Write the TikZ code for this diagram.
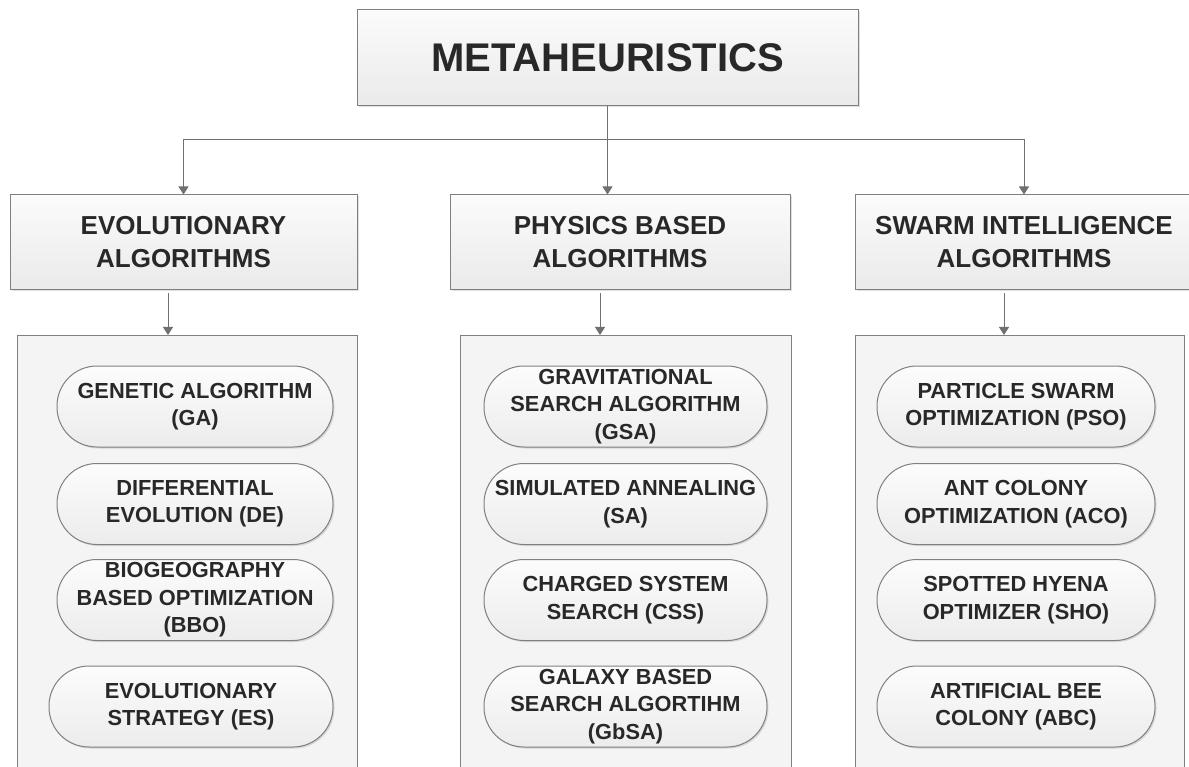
\documentclass[tikz,border=0pt]{standalone}
\usepackage{fontspec}
\setmainfont{Liberation Sans}
\usepackage{tikz}
\usetikzlibrary{arrows.meta, positioning}
\usetikzlibrary{shadows}

\definecolor{boxline}{RGB}{128,128,128}
\definecolor{linegray}{RGB}{112,112,112}
\definecolor{textdark}{RGB}{40,40,40}
\definecolor{boxtop}{RGB}{251,251,251}
\definecolor{boxbot}{RGB}{234,234,234}
\definecolor{pilltop}{RGB}{252,252,252}
\definecolor{pillbot}{RGB}{236,236,236}
\definecolor{groupfill}{RGB}{244,244,244}

\begin{document}
\begin{tikzpicture}[x=1pt,y=-1pt,
  boxtext/.style={text=textdark, align=center, inner sep=0pt},
  headbox/.style={boxtext, draw=boxline, line width=1pt, top color=boxtop, bottom color=boxbot,
    drop shadow={shadow xshift=1.5pt, shadow yshift=-1.5pt, opacity=0.25}},
  algbox/.style={boxtext, draw=boxline, line width=1pt, rounded corners=40pt,
    minimum height=81pt, top color=pilltop, bottom color=pillbot,
    drop shadow={shadow xshift=1.5pt, shadow yshift=-1.5pt, opacity=0.25},
    font=\bfseries\fontsize{21.8}{27.5}\selectfont},
  groupbox/.style={draw=boxline, line width=1pt, fill=groupfill, anchor=north, minimum height=460pt},
  conn/.style={draw=linegray, line width=1pt},
  arr/.style={conn, -{Triangle[length=8pt,width=10pt]}}]

\useasboundingbox (0,0) rectangle (1189,767);

% Top box
\node [headbox, minimum width=501pt, minimum height=96pt, font=\bfseries\fontsize{40}{46}\selectfont]
  (meta) at (607.5,58) {METAHEURISTICS};

% Category boxes
\node [headbox, minimum width=347pt, minimum height=95pt, font=\bfseries\fontsize{26}{33}\selectfont]
  (evo) at (183.5,242.5) {EVOLUTIONARY\\ALGORITHMS};
\node [headbox, minimum width=340pt, minimum height=95pt, font=\bfseries\fontsize{26}{33}\selectfont]
  (phys) at (620,242.5) {PHYSICS BASED\\ALGORITHMS};
\node [headbox, minimum width=338pt, minimum height=95pt, font=\bfseries\fontsize{26}{33}\selectfont]
  (swarm) at (1024,242.5) {SWARM INTELLIGENCE\\ALGORITHMS};

% Group panels
\node [groupbox, minimum width=340pt] (evoc) at (187,335) {};
\node [groupbox, minimum width=331pt] (physc) at (625.5,335) {};
\node [groupbox, minimum width=329pt] (swarmc) at (1019.5,335) {};

% Evolutionary
\node [algbox, minimum width=276pt] (ga) at (195,406.5) {GENETIC ALGORITHM\\(GA)};
\node [algbox, minimum width=276pt] (de) at (195,504) {DIFFERENTIAL\\EVOLUTION (DE)};
\node [algbox, minimum width=276pt] (bbo) at (195,600) {BIOGEOGRAPHY\\BASED OPTIMIZATION\\(BBO)};
\node [algbox, minimum width=284pt] (es) at (191,706.5) {EVOLUTIONARY\\STRATEGY (ES)};

% Physics based
\node [algbox, minimum width=283pt] (gsa) at (625.5,406.5) {GRAVITATIONAL\\SEARCH ALGORITHM\\(GSA)};
\node [algbox, minimum width=283pt] (sa) at (625.5,504) {SIMULATED ANNEALING\\(SA)};
\node [algbox, minimum width=283pt] (css) at (625.5,600) {CHARGED SYSTEM\\SEARCH (CSS)};
\node [algbox, minimum width=283pt] (gbsa) at (625.5,706.5) {GALAXY BASED\\SEARCH ALGORTIHM\\(GbSA)};

% Swarm intelligence
\node [algbox, minimum width=278pt] (pso) at (1016,406.5) {PARTICLE SWARM\\OPTIMIZATION (PSO)};
\node [algbox, minimum width=278pt] (aco) at (1016,504) {ANT COLONY\\OPTIMIZATION (ACO)};
\node [algbox, minimum width=278pt] (sho) at (1016,600) {SPOTTED HYENA\\OPTIMIZER (SHO)};
\node [algbox, minimum width=278pt] (abc) at (1016,706.5) {ARTIFICIAL BEE\\COLONY (ABC)};

% Connectors
\coordinate (bus) at (607.5,140);
\draw [conn] (meta.south) -- (bus);
\draw [arr] (bus) -- (bus |- phys.north);
\draw [arr] (bus) -| (evo.north);
\draw [arr] (bus) -| (swarm.north);

\draw [arr] ([xshift=-15.5pt,yshift=-3pt]evo.south) -- ([xshift=-15.5pt]evo.south |- evoc.north);
\draw [arr] ([xshift=-20pt,yshift=-3pt]phys.south) -- ([xshift=-20pt]phys.south |- physc.north);
\draw [arr] ([xshift=-20pt,yshift=-3pt]swarm.south) -- ([xshift=-20pt]swarm.south |- swarmc.north);

\end{tikzpicture}
\end{document}
